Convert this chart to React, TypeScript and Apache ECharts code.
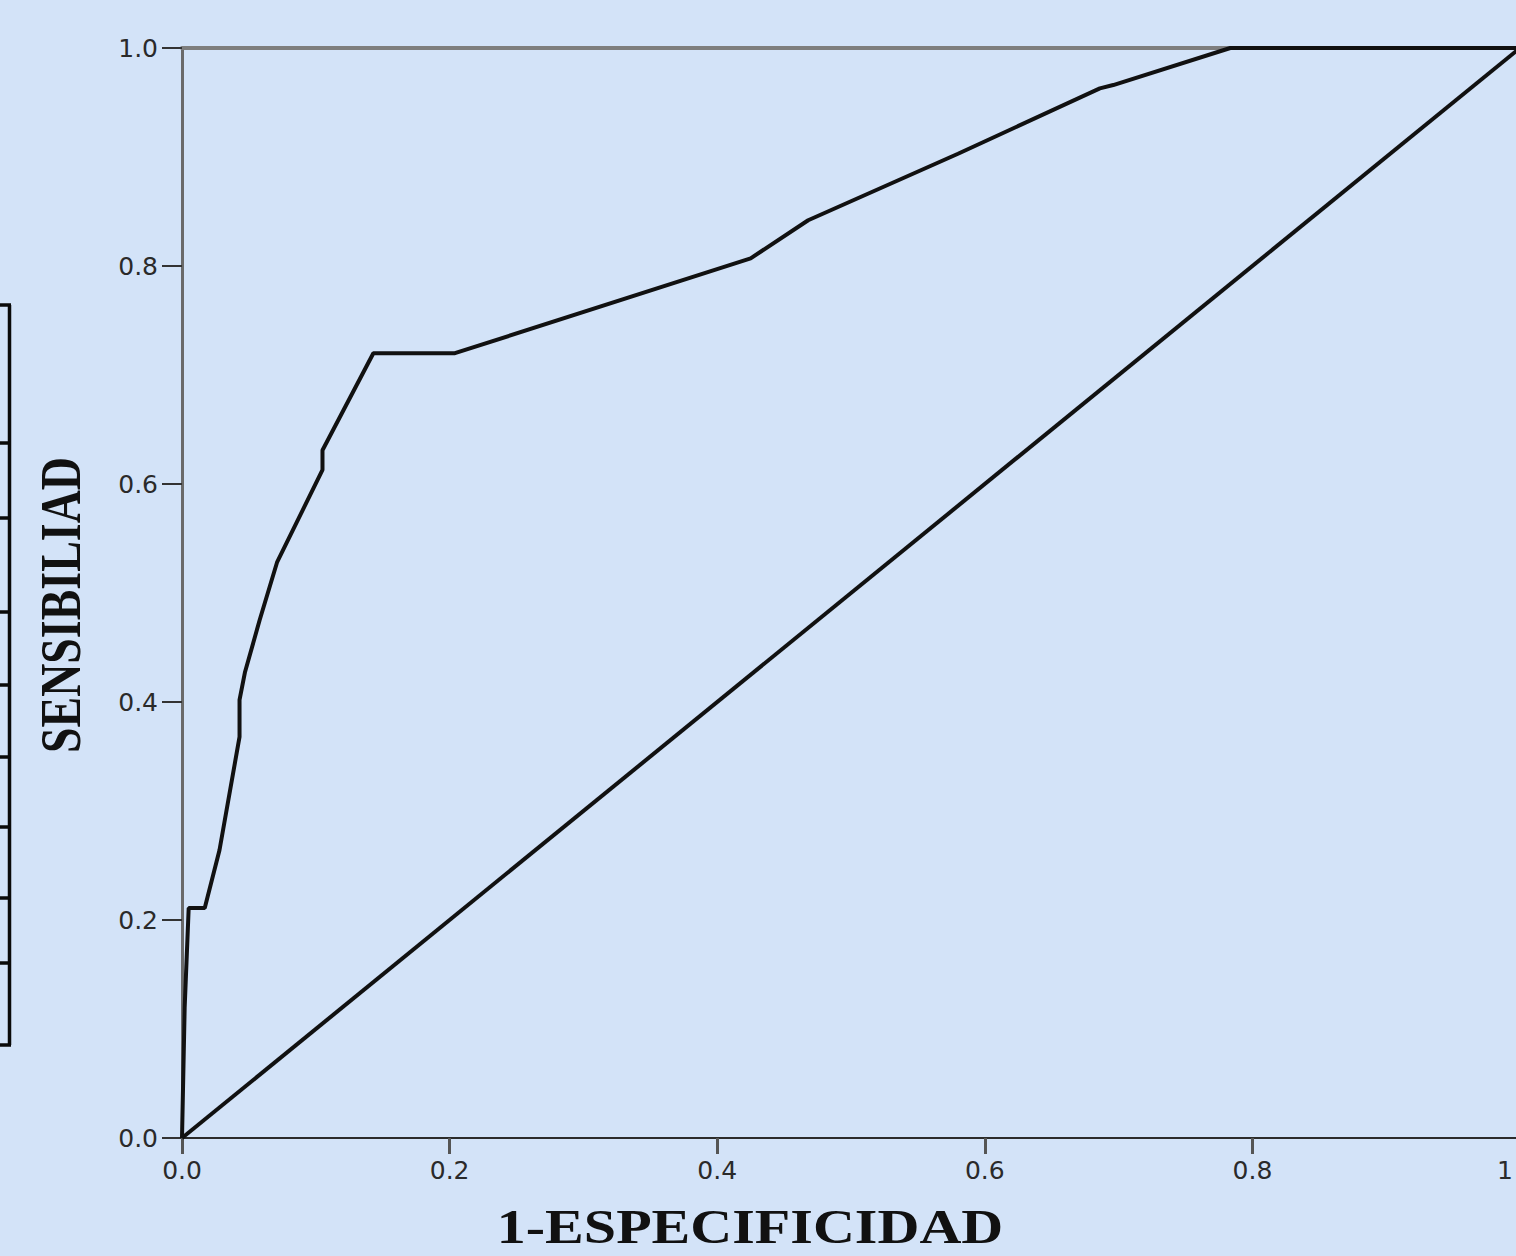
import React, { useEffect, useRef } from "react";
import * as echarts from "echarts";

// ROC curve points (1-especificidad, sensibilidad)
const rocX = [0, 0.002, 0.005, 0.017, 0.028, 0.043, 0.043, 0.047, 0.058, 0.071, 0.105, 0.105, 0.143, 0.204, 0.425, 0.468, 0.58, 0.686, 0.696, 0.7835, 1];
const rocY = [0, 0.12, 0.211, 0.211, 0.264, 0.368, 0.402, 0.427, 0.475, 0.528, 0.613, 0.631, 0.72, 0.72, 0.807, 0.842, 0.903, 0.963, 0.966, 1.0, 1.0];

// reference diagonal
const diagX = [0, 1];
const diagY = [0, 1];

const xTitle = "1-ESPECIFICIDAD";
const yTitle = "SENSIBILIAD";

// horizontal rules of the partly visible table at the left edge (pixel rows)
const tableRows = [305, 443, 518, 612, 685, 757, 827, 898, 963, 1045];

export default function App() {
  const ref = useRef<HTMLDivElement>(null);

  useEffect(() => {
    if (!ref.current) return;
    const chart = echarts.init(ref.current, undefined, { renderer: "svg" });

    const tableEls: any[] = [
      {
        type: "line",
        shape: { x1: 9.5, y1: tableRows[0], x2: 9.5, y2: tableRows[tableRows.length - 1] },
        style: { stroke: "#0a0a0a", lineWidth: 3.5 },
      },
      ...tableRows.map((r) => ({
        type: "line",
        shape: { x1: 0, y1: r, x2: 11, y2: r },
        style: { stroke: "#0a0a0a", lineWidth: 3.5 },
      })),
    ];

    const labelFont = { fontFamily: "DejaVu Sans", fontSize: 25, color: "#2a2a2a" };

    const option: any = {
      animation: false,
      backgroundColor: "#d3e3f8",
      grid: {
        left: 182,
        top: 48,
        width: 1338,
        height: 1090,
        containLabel: false,
        outerBoundsMode: "none",
      },
      xAxis: [
        {
          type: "value",
          min: 0,
          max: 1,
          interval: 0.2,
          position: "bottom",
          axisLine: { show: true, lineStyle: { color: "#2b2b2b", width: 2 } },
          axisTick: { show: true, length: 16, lineStyle: { color: "#555", width: 3 } },
          axisLabel: {
            margin: 20,
            ...labelFont,
            formatter: (v: number) => (v === 1 ? "{last|1}" : v.toFixed(1)),
            rich: {
              last: { ...labelFont, padding: [0, 30, 0, 0] },
            },
          },
          splitLine: { show: false },
        },
        {
          type: "value",
          min: 0,
          max: 1,
          position: "top",
          axisLine: { show: true, lineStyle: { color: "#7e7e7e", width: 4 } },
          axisTick: { show: false },
          axisLabel: { show: false },
          splitLine: { show: false },
        },
      ],
      yAxis: {
        type: "value",
        min: 0,
        max: 1,
        interval: 0.2,
        axisLine: { show: true, lineStyle: { color: "#6a6a6a", width: 3 } },
        axisTick: { show: true, length: 20, lineStyle: { color: "#333", width: 2 } },
        axisLabel: {
          margin: 24,
          ...labelFont,
          formatter: (v: number) => v.toFixed(1),
        },
        splitLine: { show: false },
      },
      graphic: [
        ...tableEls,
        {
          type: "text",
          x: 61,
          y: 605,
          rotation: Math.PI / 2,
          scaleX: 0.82,
          style: {
            text: yTitle,
            font: 'bold 56px "Liberation Serif"',
            fill: "#111",
            align: "center",
            verticalAlign: "middle",
            textAlign: "center",
            textVerticalAlign: "middle",
          },
        },
        {
          type: "text",
          x: 750,
          y: 1227,
          scaleX: 1.21,
          style: {
            text: xTitle,
            font: 'bold 48px "Liberation Serif"',
            lineHeight: 40,
            fill: "#111",
            align: "center",
            verticalAlign: "middle",
            textAlign: "center",
            textVerticalAlign: "middle",
          },
        },
      ],
      series: [
        {
          type: "line",
          data: diagX.map((x, i) => [x, diagY[i]]),
          showSymbol: false,
          clip: false,
          lineStyle: { color: "#111", width: 4 },
          z: 3,
        },
        {
          type: "line",
          data: rocX.map((x, i) => [x, rocY[i]]),
          showSymbol: false,
          clip: false,
          lineStyle: { color: "#111", width: 4 },
          z: 4,
        },
      ],
    };

    chart.setOption(option);
    return () => chart.dispose();
  }, []);

  return (
    <div
      ref={ref}
      style={{ position: "absolute", left: 0, top: 0, width: 1516, height: 1256 }}
    />
  );
}
